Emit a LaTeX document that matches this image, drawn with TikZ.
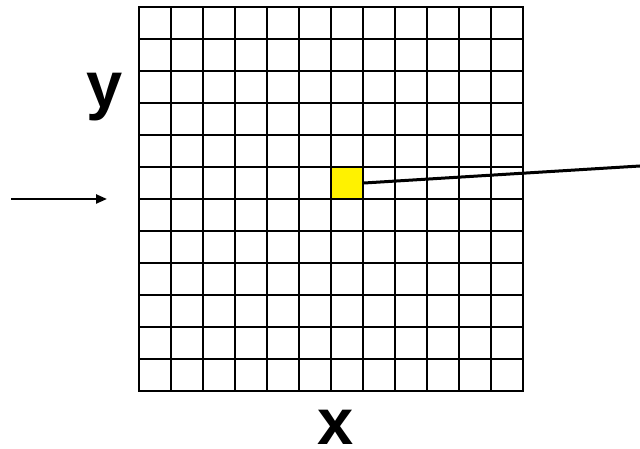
\documentclass[tikz,border=0pt]{standalone}
\usepackage{fontspec}
\setmainfont{Liberation Sans}
\usetikzlibrary{positioning, arrows.meta}

\begin{document}
\begin{tikzpicture}[x=1pt,y=1pt,
    gridline/.style={line width=2.3pt,line cap=rect},
    axislabel/.style={font=\fontsize{65}{70}\selectfont\bfseries,inner sep=0pt,anchor=base}]
  \useasboundingbox (0,0) rectangle (640,449);
  % 12 x 12 grid
  \foreach \i in {0,...,12}{
    \draw[gridline] (139+32*\i,58) -- (139+32*\i,442);
    \draw[gridline] (139,58+32*\i) -- (523,58+32*\i);
  }
  \node[draw,line width=2.3pt,fill=yellow,minimum size=32pt,inner sep=0pt] (cell) at (347,266){};
  \node[axislabel] (ylab) at (105,341){y};
  \node[axislabel] (xlab) at (336,4){x};
  \coordinate (inA) at (11,250);
  \coordinate (inB) at (107,250);
  \coordinate (out) at (640,283);
  \draw[line width=2.3pt,-{Triangle[length=11pt,width=9pt]}] (inA) -- (inB);
  \draw[line width=3pt] (cell.east) -- (out);
\end{tikzpicture}
\end{document}
